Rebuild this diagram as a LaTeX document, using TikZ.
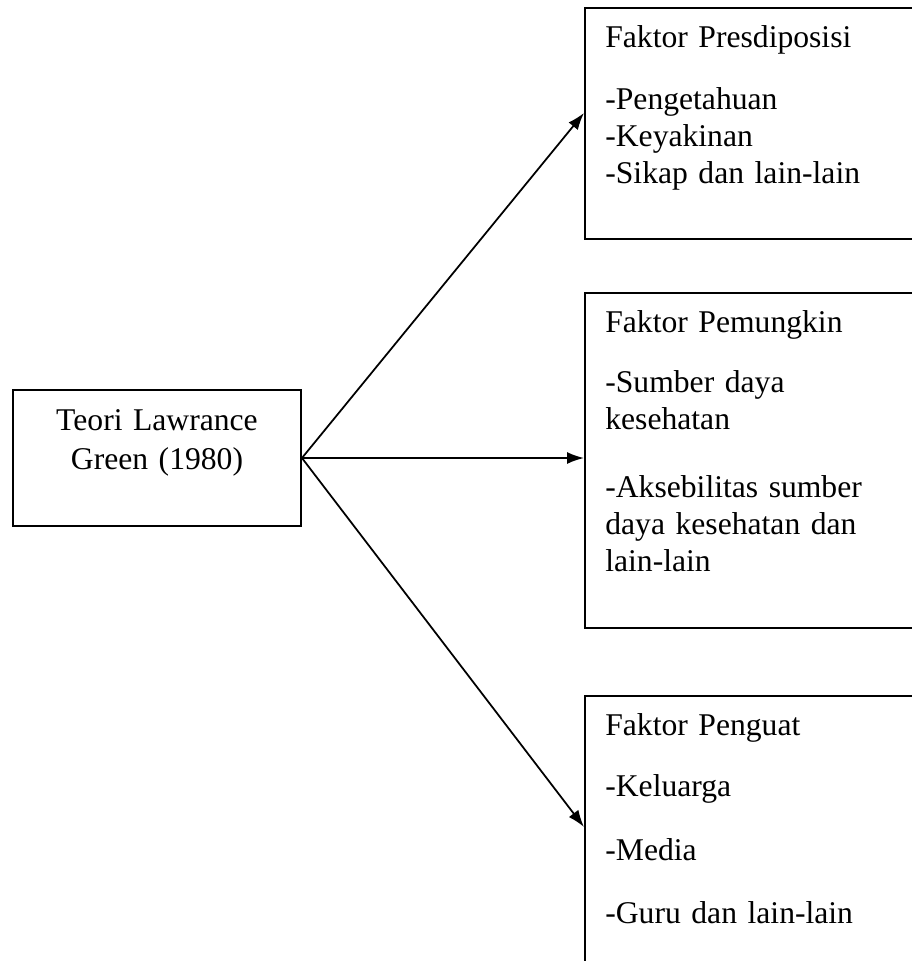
\documentclass[tikz,border=0pt]{standalone}
\usepackage{fontspec}
\setmainfont{Liberation Serif}
\usepackage{tikz}
\usetikzlibrary{calc, arrows.meta, positioning}

\begin{document}
\begin{tikzpicture}[>={Latex[length=3.4mm,width=2.4mm]},
    kotak/.style={draw, line width=1.1pt, inner sep=0pt},
    isi/.style={inner sep=0pt, text width=6.4cm, align=left, anchor=base west, font=\fontsize{18}{21}\selectfont},
    panah/.style={->, line width=1pt}]
            \useasboundingbox (0,0) rectangle (18.24,-19.22);
            \clip (0,0) rectangle (18.24,-19.22);
            
            \node[kotak, minimum width=5.76cm, minimum height=2.72cm] (teori) at (3.14, -9.16) {};
            \node[kotak, anchor=north west, minimum width=7cm, minimum height=4.62cm] (pres) at (11.68, -0.14) {};
            \node[kotak, anchor=north west, minimum width=7cm, minimum height=6.7cm] (pem) at (11.68, -5.84) {};
            \node[kotak, anchor=north west, minimum width=7cm, minimum height=6cm] (peng) at (11.68, -13.9) {};
            
            \node[isi, text width=5.2cm, align=center, anchor=base] (tTeori) at (3.14, -8.6) {Teori Lawrance\\[0.06cm] Green (1980)};
            \node[isi] (tPres) at (12.1, -0.94) {Faktor Presdiposisi\\[0.52cm] -Pengetahuan\\ -Keyakinan\\ -Sikap dan lain-lain};
            \node[isi] (tPem) at (12.1, -6.64) {Faktor Pemungkin\\[0.48cm] -Sumber daya\\ kesehatan\\[0.62cm] -Aksebilitas sumber\\ daya kesehatan dan\\ lain-lain};
            \node[isi] (tPeng) at (12.1, -14.7) {Faktor Penguat\\[0.5cm] -Keluarga\\[0.54cm] -Media\\[0.52cm] -Guru dan lain-lain};
            
            \draw[panah] (teori.east) -- ([yshift=0.21cm]pres.west);
            \draw[panah] (teori.east) -- (teori.east -| pem.west);
            \draw[panah] (teori.east) -- ([yshift=-2.64cm]peng.north west);
        \end{tikzpicture}
\end{document}
